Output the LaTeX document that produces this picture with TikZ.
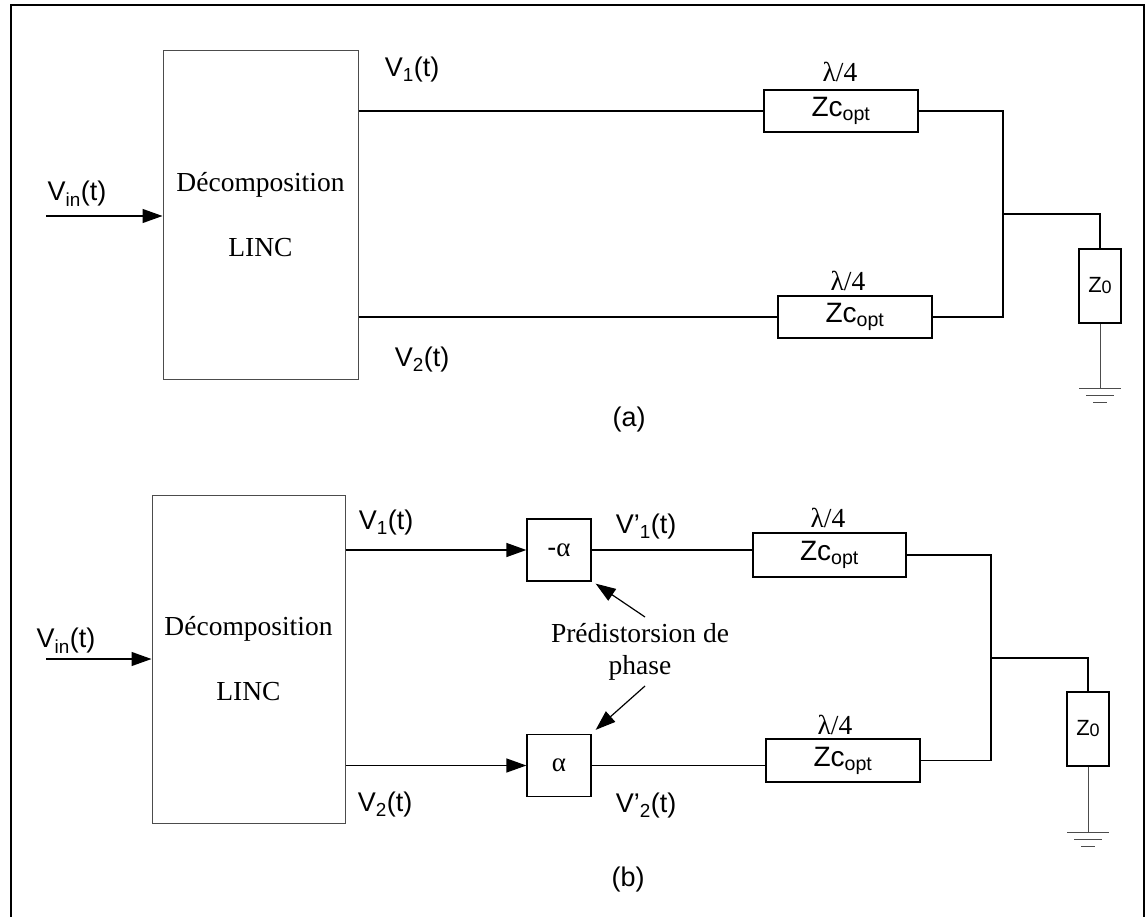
\documentclass[tikz,border=0pt]{standalone}
\usepackage{fontspec}
\setmainfont{Liberation Serif}
\setsansfont{Liberation Sans}
\usetikzlibrary{arrows.meta}
\begin{document}
\begin{tikzpicture}[x=1pt,y=-1pt,
  wire/.style={line width=1.3pt},
  blk/.style={draw, rectangle, inner sep=0pt, line width=1.3pt},
  linc/.style={draw=black!70, rectangle, line width=1pt, inner sep=0pt, align=center,
               font=\fontsize{27.5}{65}\selectfont\rmfamily},
  zc/.style={font=\fontsize{28}{32}\selectfont\sffamily},
  zo/.style={font=\fontsize{22}{24}\selectfont\sffamily},
  tl/.style={inner sep=0pt, font=\fontsize{27}{32}\selectfont\sffamily},
  rl/.style={inner sep=0pt, font=\fontsize{27.5}{32}\selectfont\rmfamily},
  arr/.style={-{Triangle[length=20pt,width=14pt]}},
  gnd/.style={line width=1pt, draw=black!70}]
\useasboundingbox (0,0) rectangle (1147,917);
\draw[line width=2.6pt] (11,925) -- (11,5) -- (1144,5) -- (1144,925);

% ---------- (a) ----------
\node[linc, minimum width=195, minimum height=328] (linca) at (260.5,215) {Décomposition\\LINC};
\coordinate (vina) at (46,216);
\draw[wire,arr] (vina) -- (vina -| linca.west);
\node[tl] (lvina) at (77,194) {V\textsubscript{in}(t)};
\node[tl] (lv1a) at (412,70) {V\textsubscript{1}(t)};
\node[tl] (lv2a) at (422,360) {V\textsubscript{2}(t)};

\node[blk, zc, minimum width=154, minimum height=42] (zca1) at (841,111) {Zc\textsubscript{opt}};
\node[blk, zc, minimum width=154, minimum height=42] (zca2) at (855,317) {Zc\textsubscript{opt}};
\node[rl] (lama1) at (840,72) {λ/4};
\node[rl] (lama2) at (848,281) {λ/4};

\draw[wire] (linca.east |- zca1.west) -- (zca1.west);
\draw[wire] (linca.east |- zca2.west) -- (zca2.west);
\coordinate (ja) at (1003,214);
\draw[wire] (zca1.east) -| (ja) |- (zca2.east);
\node[blk, zo, minimum width=42, minimum height=74] (z0a) at (1100,286) {Z{\fontsize{18}{18}\selectfont\raisebox{-1pt}{0}}};
\draw[wire] (ja) -| (z0a.north);
\coordinate (ga) at (1100,388);
\draw[gnd] (z0a.south) -- (ga);
\draw[gnd] ([xshift=-21pt]ga) -- ([xshift=21pt]ga);
\draw[gnd] ([xshift=-14pt,yshift=-7pt]ga) -- ([xshift=14pt,yshift=-7pt]ga);
\draw[gnd] ([xshift=-7pt,yshift=-14pt]ga) -- ([xshift=7pt,yshift=-14pt]ga);
\node[tl] (capa) at (629,420) {(a)};

% ---------- (b) ----------
\node[linc, minimum width=193, minimum height=328] (lincb) at (248.5,659) {Décomposition\\LINC};
\coordinate (vinb) at (46,659);
\draw[wire,arr] (vinb) -- (vinb -| lincb.west);
\node[tl] (lvinb) at (66,641) {V\textsubscript{in}(t)};

\node[blk, minimum width=64, minimum height=62] (ma) at (559,550) {\fontsize{27}{32}\selectfont\sffamily -\rmfamily α};
\node[blk, minimum width=64, minimum height=62] (pa) at (559,765.5) {\fontsize{27}{32}\selectfont\rmfamily α};
\draw[wire,arr] (lincb.east |- ma.west) -- (ma.west);
\draw[wire,arr] (lincb.east |- pa.west) -- (pa.west);
\node[tl] (lv1b) at (386,523) {V\textsubscript{1}(t)};
\node[tl] (lv2b) at (385,805) {V\textsubscript{2}(t)};
\node[tl] (lv1pb) at (646,527) {V’\textsubscript{1}(t)};
\node[tl] (lv2pb) at (646,806) {V’\textsubscript{2}(t)};

\node[blk, zc, minimum width=153, minimum height=44] (zcb1) at (829.5,555) {Zc\textsubscript{opt}};
\node[blk, zc, minimum width=154, minimum height=43] (zcb2) at (843,760.5) {Zc\textsubscript{opt}};
\node[rl] (lamb1) at (828,518) {λ/4};
\node[rl] (lamb2) at (835,725) {λ/4};
\draw[wire] (ma.east) -- (ma.east -| zcb1.west);
\draw[wire] (pa.east) -- (pa.east -| zcb2.west);
\coordinate (jb) at (991,658);
\draw[wire] (zcb1.east) -| (jb) |- (zcb2.east);
\node[blk, zo, minimum width=42, minimum height=74] (z0b) at (1088,729) {Z{\fontsize{18}{18}\selectfont\raisebox{-1pt}{0}}};
\draw[wire] (jb) -| (z0b.north);
\coordinate (gb) at (1088,832);
\draw[gnd] (z0b.south) -- (gb);
\draw[gnd] ([xshift=-21pt]gb) -- ([xshift=21pt]gb);
\draw[gnd] ([xshift=-14pt,yshift=-7pt]gb) -- ([xshift=14pt,yshift=-7pt]gb);
\draw[gnd] ([xshift=-7pt,yshift=-14pt]gb) -- ([xshift=7pt,yshift=-14pt]gb);

\node[rl, align=center, font=\fontsize{27.5}{32}\selectfont\rmfamily] (pred) at (640,652) {Prédistorsion de\\phase};
\coordinate (pt1) at (645,617);
\coordinate (pt2) at (645,686);
\draw[line width=1.2pt, arr] (pt1) -- ([shift={(4pt,-2pt)}]ma.south east);
\draw[line width=1.2pt, arr] (pt2) -- ([shift={(4pt,4pt)}]pa.north east);
\node[tl] (capb) at (628,880) {(b)};
\end{tikzpicture}
\end{document}
